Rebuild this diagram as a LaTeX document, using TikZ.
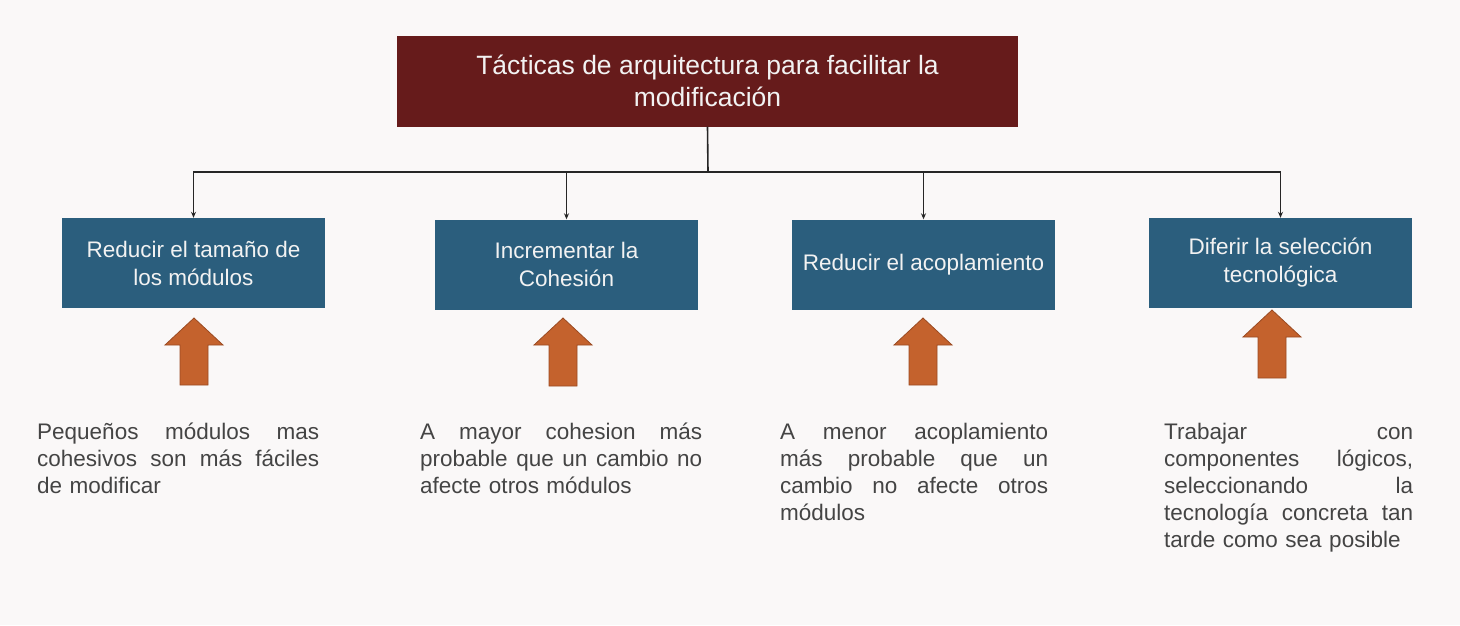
\documentclass[tikz,border=0pt]{standalone}
\usepackage{fontspec}
\setmainfont{Liberation Sans}
\usetikzlibrary{arrows.meta}
\definecolor{bg}{HTML}{FAF8F8}
\definecolor{topred}{HTML}{661B1B}
\definecolor{boxblue}{HTML}{2B5E7D}
\definecolor{orng}{HTML}{C4622D}
\definecolor{orngdark}{HTML}{9A4A22}
\definecolor{bodytext}{HTML}{444444}
\definecolor{boxtext}{HTML}{F2F2F2}
\newcommand{\js}{\hfill\ }
\newcommand{\bigup}[3]{%
  \filldraw[fatarrow] (#1,#2) -- (#1+29,#2+27) -- (#1+14,#2+27) -- (#1+14,#3)
    -- (#1-14,#3) -- (#1-14,#2+27) -- (#1-29,#2+27) -- cycle;}
\tikzset{
  topbox/.style={fill=topred, text=boxtext, minimum width=621, minimum height=91,
    inner sep=0pt, align=center, font=\fontsize{26.5}{32}\selectfont},
  tactic/.style={fill=boxblue, text=boxtext, minimum width=263, minimum height=90,
    inner sep=0pt, align=center, font=\fontsize{22.5}{28}\selectfont},
  body/.style={anchor=base west, inner sep=0pt, text width=#1, align=left,
    text=bodytext, font=\fontsize{22.5}{27}\selectfont},
  conn/.style={draw=black!85, line width=1.6pt},
  connarr/.style={conn, -{Stealth[length=6pt,width=5pt]}},
  fatarrow/.style={fill=orng, draw=orngdark, line width=0.8pt, line join=miter}
}
\begin{document}
\begin{tikzpicture}[x=1pt,y=-1pt]
\path[fill=bg] (0,0) rectangle (1460,625);
\node[topbox] (top) at (707.5,81) {Tácticas de arquitectura para facilitar la\\modificación};
\node[tactic] (b1) at (193.5,263) {Reducir el tamaño de\\los módulos};
\node[tactic] (b2) at (566.5,264.5) {Incrementar la\\Cohesión};
\node[tactic] (b3) at (923.5,264.5) {Reducir el acoplamiento};
\node[tactic] (b4) at (1280.5,263) {Diferir la selección\\tecnológica};
\coordinate (bus) at (708,172);
\draw[conn] (top.south) -- (bus);
\draw[connarr] (bus) -| (b1.north);
\draw[connarr] (bus) -| (b2.north);
\draw[connarr] (bus) -| (b3.north);
\draw[connarr] (bus) -| (b4.north);
\bigup{194}{318}{385}
\bigup{563}{318}{386}
\bigup{923}{318}{385}
\bigup{1272}{310}{378}
\node[body=282pt] (t1) at (37,439) {Pequeños\js módulos\js mas\\cohesivos\js son\js más\js fáciles\\de modificar};
\node[body=282pt] (t2) at (420,439) {A\js mayor\js cohesion\js más\\probable\js que\js un\js cambio\js no\\afecte otros módulos};
\node[body=268pt] (t3) at (780,439) {A\js menor\js acoplamiento\\más\js probable\js que\js un\\cambio\js no\js afecte\js otros\\módulos};
\node[body=249pt] (t4) at (1164,439) {Trabajar\js con\\componentes\js lógicos,\\seleccionando\js la\\tecnología\js concreta\js tan\\tarde como sea posible};
\end{tikzpicture}
\end{document}
